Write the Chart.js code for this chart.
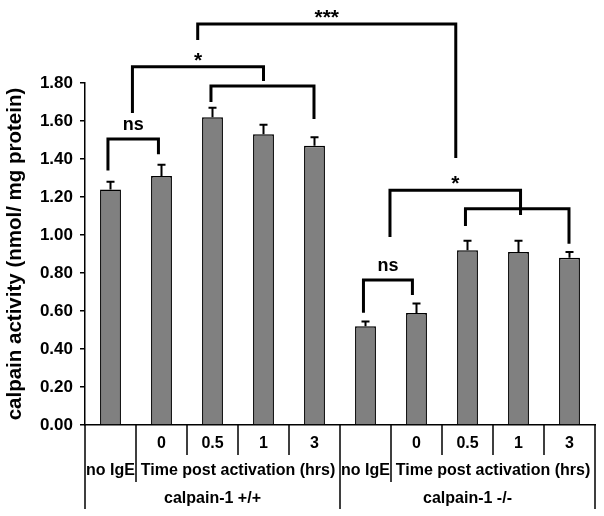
<!DOCTYPE html>
<html>
<head>
<meta charset="utf-8">
<script src="https://cdn.jsdelivr.net/npm/chart.js@4/dist/chart.umd.min.js"></script>
<style>
html, body { margin: 0; padding: 0; background: #fff; }
</style>
</head>
<body>
<canvas id="calpainChart" width="604" height="516"></canvas>
<script>
// data
const groups = ['calpain-1 +/+', 'calpain-1 -/-'];
const conditions = ['no IgE', '0', '0.5', '1', '3'];
const timeCaption = 'Time post activation (hrs)';
const categories = ['+/+ no IgE', '+/+ 0', '+/+ 0.5', '+/+ 1', '+/+ 3', '-/- no IgE', '-/- 0', '-/- 0.5', '-/- 1', '-/- 3'];
const activity = [1.24, 1.31, 1.62, 1.53, 1.47, 0.52, 0.59, 0.92, 0.91, 0.88];
const errUpper = [0.04, 0.06, 0.05, 0.05, 0.045, 0.025, 0.05, 0.05, 0.06, 0.03];
const yTicks = [0, 0.2, 0.4, 0.6, 0.8, 1.0, 1.2, 1.4, 1.6, 1.8];

// significance brackets, in category index / value units
const brackets = [
    { label: 'ns', x1: -0.05, x2: 0.94, top: 1.505, end1: 1.34, end2: 1.425 },
    { label: '*', x1: 0.43, x2: 3.0, top: 1.885, end1: 1.642, end2: 1.81 },
    { label: '', x1: 1.97, x2: 3.99, top: 1.784, end1: 1.70, end2: 1.61 },
    { label: '***', x1: 1.71, x2: 6.77, top: 2.11, end1: 2.026, end2: 1.405 },
    { label: 'ns', x1: 4.96, x2: 5.92, top: 0.763, end1: 0.591, end2: 0.684 },
    { label: '*', x1: 5.48, x2: 8.04, top: 1.235, end1: 0.989, end2: 1.105 },
    { label: '', x1: 6.96, x2: 8.99, top: 1.138, end1: 1.047, end2: 0.954 }
];

const FONT = '"Liberation Sans", Arial, sans-serif';

const annotate = {
    id: 'annotate',
    afterDatasetsDraw(chart) {
        const { ctx, scales: { x, y } } = chart;
        const meta = chart.getDatasetMeta(0);
        const step = x.getPixelForValue(1) - x.getPixelForValue(0);
        const px = i => x.getPixelForValue(0) + i * step;

        ctx.save();
        ctx.strokeStyle = '#000';
        ctx.fillStyle = '#000';

        // error bars (upper only)
        ctx.lineWidth = 2;
        meta.data.forEach((bar, i) => {
            const top = y.getPixelForValue(activity[i] + errUpper[i]);
            ctx.beginPath();
            ctx.moveTo(bar.x, bar.y);
            ctx.lineTo(bar.x, top);
            ctx.moveTo(bar.x - 4, top);
            ctx.lineTo(bar.x + 4, top);
            ctx.stroke();
        });

        // brackets
        ctx.lineWidth = 3;
        ctx.lineJoin = 'miter';
        ctx.textAlign = 'center';
        ctx.textBaseline = 'alphabetic';
        brackets.forEach(b => {
            const xa = px(b.x1), xb = px(b.x2);
            const yt = y.getPixelForValue(b.top);
            ctx.beginPath();
            ctx.moveTo(xa, y.getPixelForValue(b.end1));
            ctx.lineTo(xa, yt);
            ctx.lineTo(xb, yt);
            ctx.lineTo(xb, y.getPixelForValue(b.end2));
            ctx.stroke();
            if (b.label === 'ns') {
                ctx.font = 'bold 18px ' + FONT;
                ctx.fillText(b.label, (xa + xb) / 2, yt - 9);
            } else if (b.label) {
                ctx.font = 'bold 21px ' + FONT;
                ctx.fillText(b.label, (xa + xb) / 2, yt);
            }
        });

        // category table under the x axis
        const base = y.getPixelForValue(0);
        const edge = i => px(i) - step / 2;
        ctx.lineWidth = 1.5;
        ctx.beginPath();
        groups.forEach((g, gi) => {
            const first = gi * conditions.length;
            // group outer line
            ctx.moveTo(edge(first), base);
            ctx.lineTo(edge(first), base + 84);
            // no IgE | time divider
            ctx.moveTo(edge(first + 1), base);
            ctx.lineTo(edge(first + 1), base + 57);
            for (let k = 2; k < conditions.length; k++) {
                ctx.moveTo(edge(first + k), base);
                ctx.lineTo(edge(first + k), base + 30);
            }
        });
        const last = edge(categories.length);
        ctx.moveTo(last, base);
        ctx.lineTo(last, base + 84);
        ctx.stroke();

        ctx.font = 'bold 16px ' + FONT;
        ctx.textBaseline = 'middle';
        groups.forEach((g, gi) => {
            const first = gi * conditions.length;
            for (let k = 1; k < conditions.length; k++) {
                ctx.fillText(conditions[k], px(first + k), base + 19);
            }
            ctx.fillText(conditions[0], px(first), base + 46);
            ctx.fillText(timeCaption, (edge(first + 1) + edge(first + conditions.length)) / 2, base + 46);
            ctx.fillText(g, (edge(first) + edge(first + conditions.length)) / 2, base + 74);
        });
        ctx.restore();
    }
};

new Chart(document.getElementById('calpainChart'), {
    type: 'bar',
    data: {
        labels: categories,
        datasets: [{
            data: activity,
            backgroundColor: '#808080',
            borderColor: '#000',
            borderWidth: 1.5,
            categoryPercentage: 1,
            barPercentage: 0.41
        }]
    },
    options: {
        responsive: false,
        animation: false,
        devicePixelRatio: 1,
        layout: { padding: { top: 83, right: 9, bottom: 83, left: 0 } },
        plugins: {
            legend: { display: false },
            tooltip: { enabled: false }
        },
        scales: {
            x: {
                grid: { display: false },
                border: { display: true, color: '#000', width: 1.5 },
                ticks: { display: false }
            },
            y: {
                min: 0,
                max: 1.8,
                afterFit: scale => { scale.width = 85; },
                afterBuildTicks: scale => { scale.ticks = yTicks.map(v => ({ value: v })); },
                grid: { drawOnChartArea: false, drawTicks: true, tickLength: 5, color: '#000', lineWidth: 1.5 },
                border: { display: true, color: '#000', width: 1.5 },
                ticks: {
                    color: '#000',
                    padding: 7,
                    font: { family: FONT, size: 17, weight: 'bold' },
                    callback: v => Number(v).toFixed(2)
                },
                title: {
                    display: true,
                    text: 'calpain activity (nmol/ mg protein)',
                    color: '#000',
                    padding: { top: 3, bottom: 0 },
                    font: { family: FONT, size: 20.5, weight: 'bold' }
                }
            }
        }
    },
    plugins: [annotate]
});
</script>
</body>
</html>
